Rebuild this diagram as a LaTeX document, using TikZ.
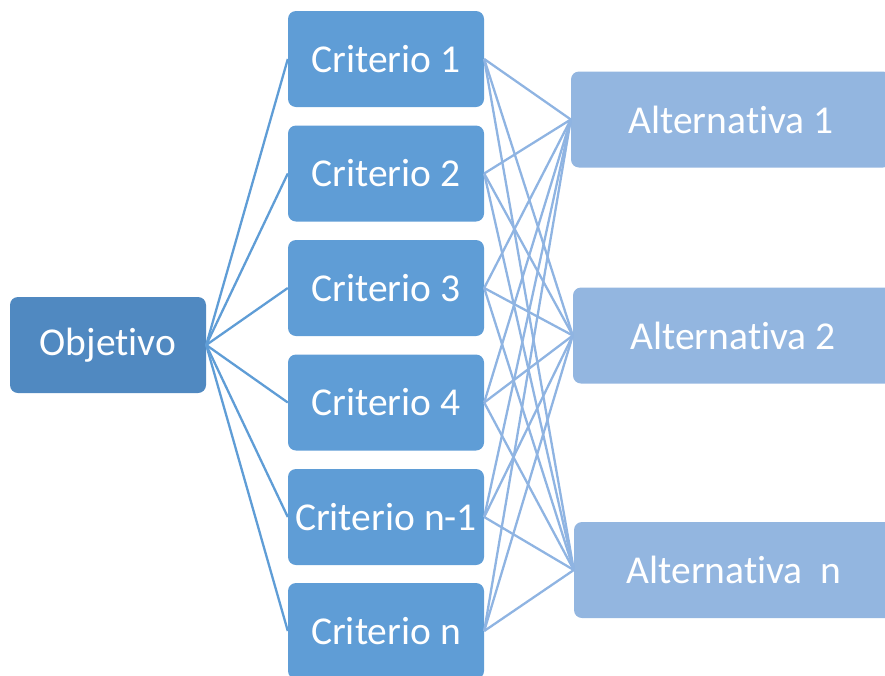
\documentclass[tikz,border=0pt]{standalone}
\usepackage{fontspec}
\setmainfont{Carlito}[Ligatures={NoCommon,NoRare,NoContextual}]
\definecolor{objc}{HTML}{5089C1}
\definecolor{critc}{HTML}{5F9DD6}
\definecolor{altc}{HTML}{93B6E0}
\definecolor{linkA}{HTML}{5F9DD6}
\definecolor{linkB}{HTML}{8FB4E2}
\begin{document}
\begin{tikzpicture}[x=1pt,y=-1pt,
  box/.style={rounded corners=8pt, inner sep=0pt, text=white, font=\fontsize{39.5}{46}\selectfont, minimum height=96pt},
  objbox/.style={box, fill=objc, minimum width=196pt},
  critbox/.style={box, fill=critc, minimum width=196pt},
  altbox/.style={box, fill=altc, minimum width=320pt},
  linkobj/.style={draw=linkA, line width=2.3pt},
  linkalt/.style={draw=linkB, line width=2.3pt}]
\useasboundingbox (0,0) rectangle (885,675);
\clip (0,0) rectangle (885,675);
\node[objbox] (obj) at (108,345) {Objetivo};
\node[critbox] (c1) at (386,59) {Criterio 1};
\node[critbox] (c2) at (386,173.5) {Criterio 2};
\node[critbox] (c3) at (386,288) {Criterio 3};
\node[critbox] (c4) at (386,402.5) {Criterio 4};
\node[critbox] (c5) at (386,517) {Criterio n-1};
\node[critbox] (c6) at (386,631) {Criterio n};
\node[altbox] (a1) at (731,119.5) {Alternativa 1};
\node[altbox] (a2) at (733,335.5) {Alternativa 2};
\node[altbox] (a3) at (734,570) {Alternativa\ \ n};
\foreach \c in {c1,c2,c3,c4,c5,c6}{
  \draw[linkobj] (obj.east) -- (\c.west);
  \foreach \a in {a1,a2,a3}{
    \draw[linkalt] (\c.east) -- (\a.west);
  }
}
\end{tikzpicture}
\end{document}
